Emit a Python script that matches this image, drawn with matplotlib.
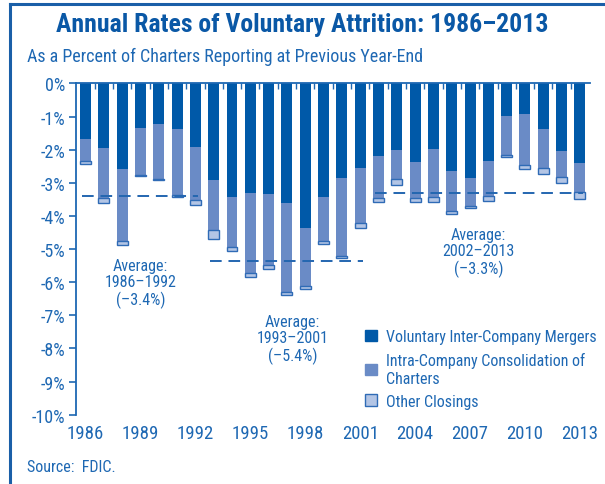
import matplotlib
matplotlib.use('Agg')
import matplotlib.pyplot as plt
from matplotlib.patches import Patch
from matplotlib.lines import Line2D

plt.rcParams['font.family'] = ['Roboto Condensed', 'DejaVu Sans']

# data (percent of charters)
years = list(range(1986, 2014))
mergers = [1.68, 1.95, 2.58, 1.34, 1.22, 1.37, 1.92, 2.90, 3.42, 3.31,
           3.34, 3.61, 4.37, 3.42, 2.85, 2.55, 2.19, 2.00, 2.36, 1.98,
           2.64, 2.85, 2.33, 0.97, 0.91, 1.37, 2.03, 2.40]
intra = [0.65, 1.51, 2.19, 1.41, 1.65, 1.99, 1.59, 1.53, 1.53, 2.40,
         2.13, 2.70, 1.76, 1.33, 2.35, 1.66, 1.26, 0.89, 1.11, 1.44,
         1.22, 0.86, 1.08, 1.18, 1.54, 1.19, 0.79, 0.87]
other = [0.11, 0.16, 0.11, 0.05, 0.05, 0.08, 0.17, 0.27, 0.10, 0.12,
         0.14, 0.08, 0.09, 0.10, 0.08, 0.16, 0.14, 0.18, 0.12, 0.15,
         0.08, 0.06, 0.14, 0.07, 0.13, 0.18, 0.20, 0.22]

periods = ['1986–1992', '1993–2001', '2002–2013']
period_start = [1986, 1993, 2002]
period_end = [1992, 2001, 2013]
period_avg = [-3.4, -5.35, -3.3]
period_label = ['(–3.4%)', '(–5.4%)', '(–3.3%)']

xtick_years = list(range(1986, 2014, 3))
yticks = list(range(0, -11, -1))

dark = '#0059a8'
mid = '#6a8bc6'
light = '#b3c5e5'
txt = '#1e68b3'

fig = plt.figure(figsize=(6.05, 4.85), dpi=100)
ax = fig.add_axes([0.1256, 0.1429, 0.8496, 0.683])

neg_m = [-v for v in mergers]
neg_i = [-v for v in intra]
neg_o = [-v for v in other]
bottom_o = [a + b for a, b in zip(neg_m, neg_i)]

ax.bar(years, neg_m, width=0.6, color=dark, linewidth=0)
ax.bar(years, neg_i, width=0.6, bottom=neg_m, color=mid, linewidth=0)
ax.bar(years, neg_o, width=0.6, bottom=bottom_o, color=light,
       edgecolor='#2f6bb6', linewidth=1.0)

# period averages
for s, e, a in zip(period_start, period_end, period_avg):
    ax.plot([s - 0.2, e + 0.15], [a, a], color='#2466b0', lw=1.4,
            dashes=(6, 3.5))

ann_pos = [(1989.0, -6.03), (1997.3, -7.72), (2007.45, -5.09)]
for (x, y), p, lab in zip(ann_pos, periods, period_label):
    ax.text(x, y, 'Average:\n' + p + '\n' + lab, ha='center', va='center',
            fontsize=11.5, color=txt, linespacing=1.1)

ax.set_xlim(1985.48, 2013.55)
ax.set_ylim(-10, 0)

for side in ['right', 'bottom']:
    ax.spines[side].set_visible(False)
ax.spines['left'].set_color(txt)
ax.spines['top'].set_color(txt)
ax.spines['left'].set_linewidth(1.3)
ax.spines['top'].set_linewidth(1.3)

ax.set_yticks(yticks)
ax.set_yticklabels([f'{v}%' for v in yticks])
ax.tick_params(axis='y', colors=txt, labelsize=13, length=5, width=1.2,
               direction='out', pad=3)

ax.set_xticks(xtick_years)
ax.set_xticklabels([str(y) for y in xtick_years])
ax.set_xticks([y + 0.5 for y in years[:-1]], minor=True)
ax.tick_params(axis='x', which='major', bottom=True, top=False, length=0,
               labelsize=13.5, labelcolor=txt, pad=7)
ax.tick_params(axis='x', which='minor', bottom=False, top=True,
               direction='in', length=4, width=1, color=txt)

handles = [Patch(facecolor=dark, edgecolor=dark),
           Patch(facecolor=mid, edgecolor=mid),
           Patch(facecolor=light, edgecolor='#2f6bb6', linewidth=1)]
labels = ['Voluntary Inter-Company Mergers',
          'Intra-Company Consolidation of\nCharters',
          'Other Closings']
leg = ax.legend(handles, labels, loc='lower left',
                bbox_to_anchor=(0.535, -0.025), frameon=False, fontsize=11.5,
                handlelength=0.7, handleheight=0.7, handletextpad=0.6,
                labelspacing=0.5, labelcolor=txt)

fig.text(0.5, 0.948, 'Annual Rates of Voluntary Attrition: 1986–2013',
         ha='center', va='center', fontsize=18.5, fontweight='bold',
         color='#0a58a6')
fig.text(0.045, 0.882, 'As a Percent of Charters Reporting at Previous Year-End',
         ha='left', va='center', fontsize=13, color=txt)
fig.text(0.045, 0.037, 'Source:  FDIC.', ha='left', va='center',
         fontsize=11.5, color=txt)

# frame lines on top and left
fig.add_artist(Line2D([0.017, 1.0], [0.99, 0.99], color='#1a5fa8', lw=2.2,
                      transform=fig.transFigure))
fig.add_artist(Line2D([0.017, 0.017], [0.0, 0.99], color='#1a5fa8', lw=2.2,
                      transform=fig.transFigure))

fig.savefig('out.png', dpi=100)
